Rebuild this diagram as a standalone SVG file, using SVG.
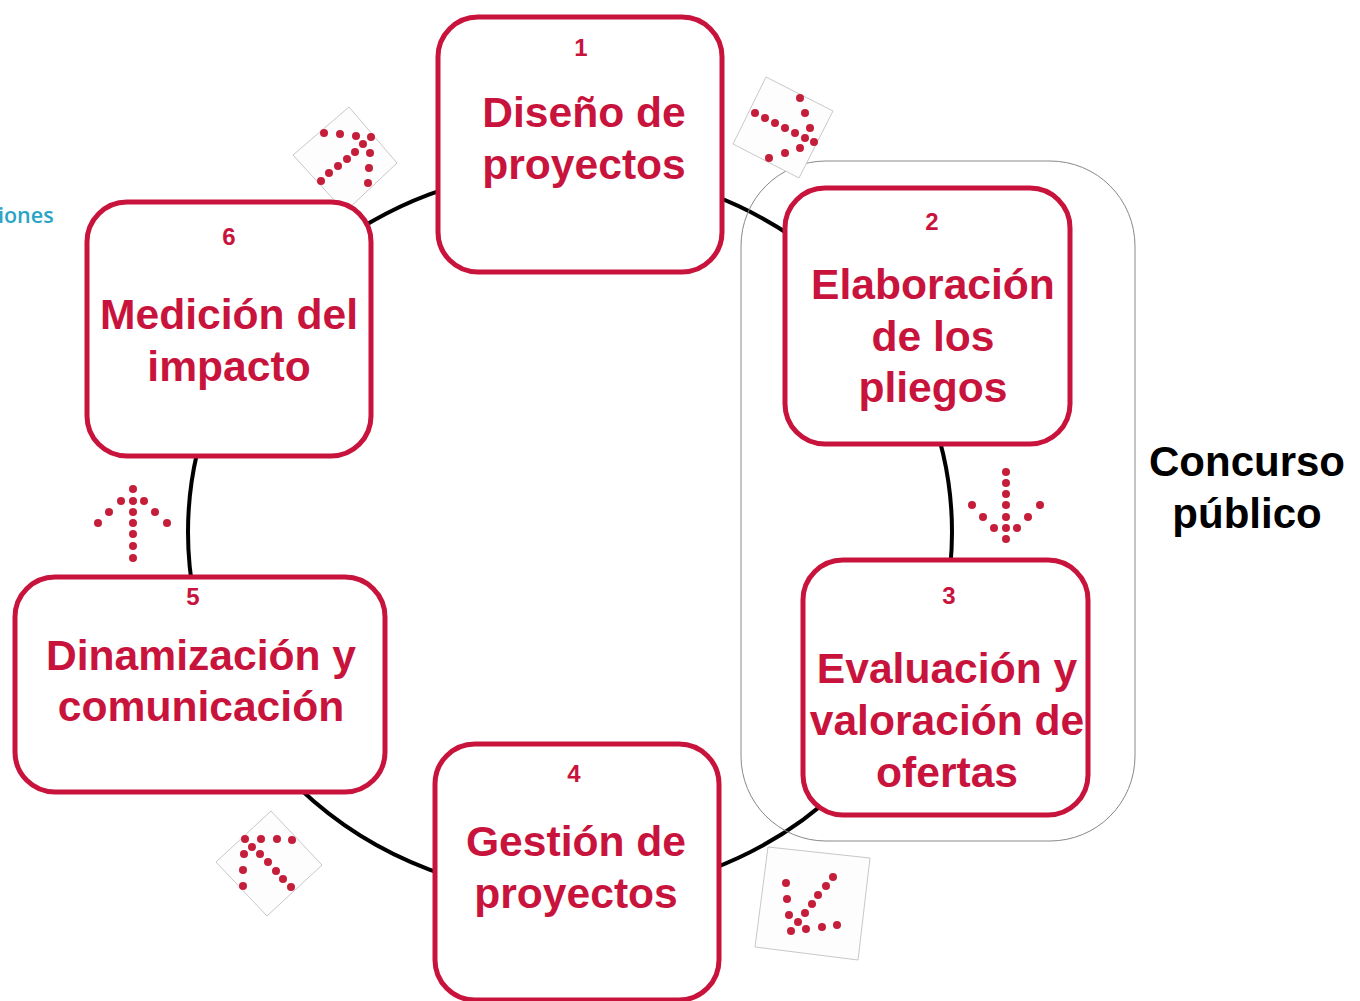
<svg xmlns="http://www.w3.org/2000/svg" width="1360" height="1001" viewBox="0 0 1360 1001">
<style>
.box{fill:#fff;stroke:#c8143c;stroke-width:5}
.num{font-family:"Liberation Sans",Arial,sans-serif;font-weight:bold;font-size:24px;fill:#c8143c;text-anchor:middle}
.lbl{font-family:"Liberation Sans",Arial,sans-serif;font-weight:bold;font-size:42.6px;fill:#c8143c;text-anchor:middle}
.blk{font-family:"Liberation Sans",Arial,sans-serif;font-weight:bold;font-size:42px;fill:#000;text-anchor:middle}
.tile{fill:#fdfdfd;stroke:#c8c8c8;stroke-width:1}
.dots circle{fill:#c41e3a}
</style>
<rect width="1360" height="1001" fill="#fff"/>
<text x="-2" y="223" font-family="'Open Sans','Liberation Sans',sans-serif" font-size="21.5" font-weight="600" fill="#2aa4c6">iones</text>
<g id="connectors">
<ellipse cx="570" cy="532" rx="382" ry="363" fill="none" stroke="#000" stroke-width="4"/>
</g>
<rect id="concurso-group" x="741" y="161" width="394" height="680" rx="85" fill="none" stroke="#888" stroke-width="1"/>
<g id="arrows">
<g id="arrow-1-2">
<polygon class="tile" points="766,77 833,111 799,178 733,144"/>
<g class="dots">
<circle cx="800" cy="98" r="4"/><circle cx="805" cy="113" r="4"/><circle cx="755" cy="113" r="4"/>
<circle cx="765" cy="118" r="4"/><circle cx="775" cy="123" r="4"/><circle cx="785" cy="128" r="4"/>
<circle cx="795" cy="133" r="4"/><circle cx="810" cy="128" r="4"/><circle cx="805" cy="138" r="4"/>
<circle cx="814" cy="142" r="4"/><circle cx="800" cy="148" r="4"/><circle cx="785" cy="153" r="4"/>
<circle cx="769" cy="158" r="4"/>
</g>
</g>
<g id="arrow-6-1">
<polygon class="tile" points="349,107 397,163 345,212 293,155"/>
<g class="dots">
<circle cx="324" cy="133" r="4"/><circle cx="340" cy="134" r="4"/><circle cx="356" cy="136" r="4"/>
<circle cx="371" cy="137" r="4"/><circle cx="363" cy="144" r="4"/><circle cx="355" cy="152" r="4"/>
<circle cx="347" cy="159" r="4"/><circle cx="338" cy="166" r="4"/><circle cx="329" cy="173" r="4"/>
<circle cx="321" cy="181" r="4"/><circle cx="370" cy="153" r="4"/><circle cx="369" cy="168" r="4"/>
<circle cx="368" cy="183" r="4"/>
</g>
</g>
<g id="arrow-2-3" class="dots">
<circle cx="1006" cy="472" r="4"/><circle cx="1006" cy="483" r="4"/><circle cx="1006" cy="494" r="4"/>
<circle cx="1006" cy="505" r="4"/><circle cx="1006" cy="517" r="4"/><circle cx="1006" cy="528" r="4"/>
<circle cx="1006" cy="539" r="4"/><circle cx="972" cy="505" r="4"/><circle cx="983" cy="517" r="4"/>
<circle cx="994" cy="528" r="4"/><circle cx="1017" cy="528" r="4"/><circle cx="1028" cy="517" r="4"/>
<circle cx="1040" cy="505" r="4"/>
</g>
<g id="arrow-3-4">
<polygon class="tile" points="768,847 870,858 858,960 755,947"/>
<g class="dots">
<circle cx="786" cy="883" r="4"/><circle cx="787" cy="899" r="4"/><circle cx="789" cy="915" r="4"/>
<circle cx="791" cy="931" r="4"/><circle cx="798" cy="922" r="4"/><circle cx="805" cy="913" r="4"/>
<circle cx="812" cy="904" r="4"/><circle cx="818" cy="895" r="4"/><circle cx="826" cy="886" r="4"/>
<circle cx="833" cy="877" r="4"/><circle cx="806" cy="929" r="4"/><circle cx="822" cy="927" r="4"/>
<circle cx="837" cy="925" r="4"/>
</g>
</g>
<g id="arrow-4-5">
<polygon class="tile" points="271,811 322,865 267,916 216,862"/>
<g class="dots">
<circle cx="245" cy="839" r="4"/><circle cx="261" cy="839" r="4"/><circle cx="277" cy="839" r="4"/>
<circle cx="292" cy="840" r="4"/><circle cx="252" cy="847" r="4"/><circle cx="244" cy="854" r="4"/>
<circle cx="260" cy="854" r="4"/><circle cx="268" cy="862" r="4"/><circle cx="243" cy="870" r="4"/>
<circle cx="276" cy="871" r="4"/><circle cx="283" cy="879" r="4"/><circle cx="243" cy="886" r="4"/>
<circle cx="291" cy="887" r="4"/>
</g>
</g>
<g id="arrow-5-6" class="dots">
<circle cx="133" cy="489" r="4"/><circle cx="133" cy="501" r="4"/><circle cx="133" cy="512" r="4"/>
<circle cx="133" cy="523" r="4"/><circle cx="133" cy="534" r="4"/><circle cx="133" cy="546" r="4"/>
<circle cx="133" cy="558" r="4"/><circle cx="121" cy="501" r="4"/><circle cx="144" cy="501" r="4"/>
<circle cx="109" cy="512" r="4"/><circle cx="155" cy="512" r="4"/><circle cx="98" cy="523" r="4"/>
<circle cx="167" cy="523" r="4"/>
</g>
</g>
<g id="node-1">
<rect class="box" x="438" y="17" width="284" height="255" rx="40"/>
<text class="num" x="581" y="56">1</text>
<text class="lbl" x="584" y="127">Diseño de</text>
<text class="lbl" x="584" y="179">proyectos</text>
</g>
<g id="node-2">
<rect class="box" x="785" y="188" width="285" height="256" rx="40"/>
<text class="num" x="932" y="230">2</text>
<text class="lbl" x="933" y="299">Elaboración</text>
<text class="lbl" x="933" y="351">de los</text>
<text class="lbl" x="933" y="402">pliegos</text>
</g>
<g id="node-3">
<rect class="box" x="803" y="560" width="285" height="255" rx="40"/>
<text class="num" x="949" y="604">3</text>
<text class="lbl" x="947" y="683">Evaluación y</text>
<text class="lbl" x="947" y="735">valoración de</text>
<text class="lbl" x="947" y="787">ofertas</text>
</g>
<g id="node-4">
<rect class="box" x="435" y="744" width="284" height="256" rx="40"/>
<text class="num" x="574" y="782">4</text>
<text class="lbl" x="576" y="856">Gestión de</text>
<text class="lbl" x="576" y="908">proyectos</text>
</g>
<g id="node-5">
<rect class="box" x="15" y="577" width="370" height="215" rx="40"/>
<text class="num" x="193" y="605">5</text>
<text class="lbl" x="201" y="670">Dinamización y</text>
<text class="lbl" x="201" y="721">comunicación</text>
</g>
<g id="node-6">
<rect class="box" x="87" y="202" width="284" height="254" rx="40"/>
<text class="num" x="229" y="245">6</text>
<text class="lbl" x="229" y="329">Medición del</text>
<text class="lbl" x="229" y="381">impacto</text>
</g>
<g id="concurso-label">
<text class="blk" x="1247" y="476">Concurso</text>
<text class="blk" x="1247" y="528">público</text>
</g>
</svg>
